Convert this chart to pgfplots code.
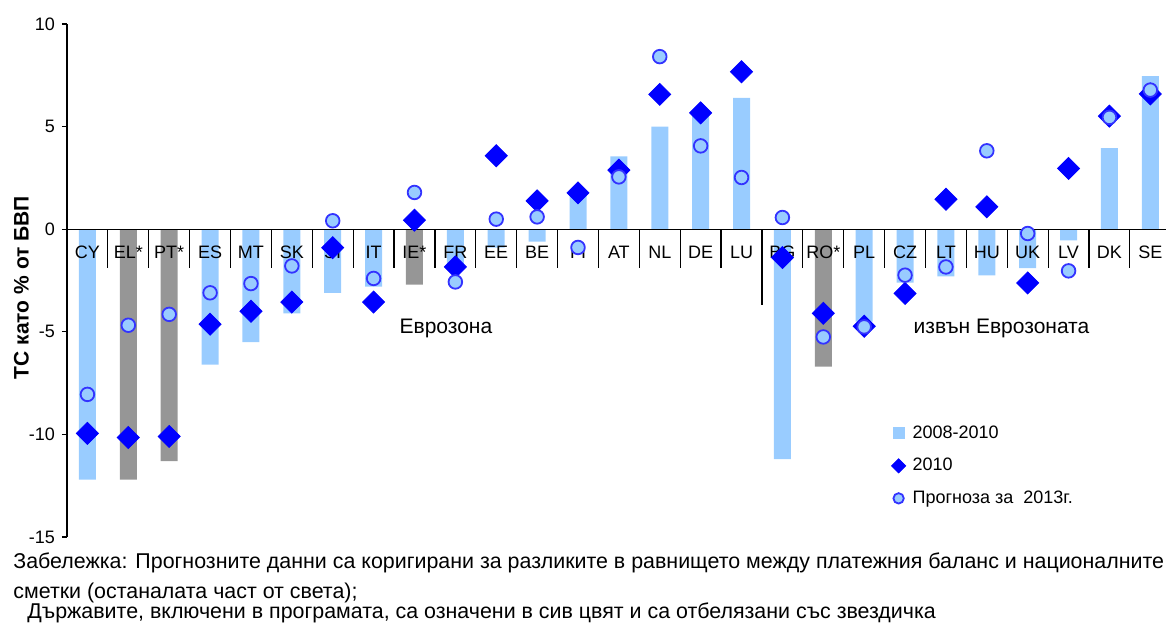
\documentclass[border=0pt]{standalone}
\usepackage{fontspec}
\setmainfont{Liberation Sans}
\usepackage{pgfplots}
\pgfplotsset{compat=1.18}
\usepackage{pgfplotstable}

\definecolor{barblue}{HTML}{99CCFF}
\definecolor{bargrey}{HTML}{969696}
\definecolor{diam}{HTML}{0000FF}
\definecolor{ringblue}{HTML}{3333FF}

% 2008-2010, countries outside the programme
\pgfplotstableread{
x y
0 -12.2
3 -6.6
4 -5.5
5 -4.1
6 -3.1
7 -2.8
9 -1.9
10 -0.9
11 -0.6
12 1.65
13 3.55
14 5.0
15 5.6
16 6.4
17 -11.2
19 -4.5
20 -2.6
21 -2.3
22 -2.25
23 -1.9
24 -0.55
25 3.95
26 7.46
}\barsblue

% 2008-2010, programme countries (grey)
\pgfplotstableread{
x y
1 -12.2
2 -11.3
8 -2.7
18 -6.7
}\barsgrey

% 2010 and forecast 2013
\pgfplotstableread{
x d c
0 -9.95 -8.05
1 -10.15 -4.68
2 -10.1 -4.15
3 -4.63 -3.1
4 -4.0 -2.65
5 -3.55 -1.79
6 -0.9 0.41
7 -3.55 -2.4
8 0.44 1.79
9 -1.84 -2.57
10 3.58 0.49
11 1.38 0.6
12 1.77 -0.89
13 2.88 2.55
14 6.57 8.41
15 5.67 4.06
16 7.67 2.52
17 -1.38 0.57
18 -4.1 -5.25
19 -4.73 -4.76
20 -3.13 -2.24
21 1.46 -1.84
22 1.09 3.82
23 -2.62 -0.21
24 2.96 -2.03
25 5.51 5.45
26 6.59 6.78
}\pts

\begin{document}
\begin{tikzpicture}
\begin{axis}[
  name=ax,
  set layers,
  x=20.44bp, y=10.26bp,
  xmin=-0.5, xmax=26.38, ymin=-15, ymax=10,
  axis y line=left, axis x line=middle,
  axis line style={-, line width=0.6bp},
  clip=false,
  xtick={0,...,26},
  xticklabels={CY,EL*,PT*,ES,MT,SK,SI,IT,IE*,FR,EE,BE,FI,AT,NL,DE,LU,BG,RO*,PL,CZ,LT,HU,UK,LV,DK,SE},
  x tick style={draw=none},
  xticklabel style={font=\fontsize{9bp}{10bp}\selectfont, anchor=center, yshift=-9bp},
  ytick={-15,-10,...,10},
  y tick style={line width=0.6bp, black},
  tick align=outside,
  major tick length=2.5bp,
  yticklabel style={font=\fontsize{9bp}{10bp}\selectfont},
  /pgf/number format/assume math mode=true,
  legend cell align=left,
  legend style={at={(axis cs:19.66,-9.54)}, anchor=north west, draw=none, fill=none,
    inner sep=0pt, row sep=8.25bp, column sep=3.5bp,
    font=\fontsize{9bp}{10bp}\selectfont,
    nodes={inner sep=0pt, text height=6.5bp, text depth=1.5bp}},
]
\addplot[ybar, bar width=8.5bp, bar shift=0pt, fill=barblue, draw=none, on layer=axis background,
  legend image code/.code={\fill[barblue] (0bp,-3bp) rectangle (6bp,3bp);}]
  table[x=x, y=y] {\barsblue};
\addlegendentry{2008-2010}
\addplot[ybar, bar width=8.5bp, bar shift=0pt, fill=bargrey, draw=none, forget plot, on layer=axis background]
  table[x=x, y=y] {\barsgrey};

% separators between countries
\pgfplotsinvokeforeach{0.5,1.5,...,15.5}{\draw[line width=0.6bp] (axis cs:#1,0) -- (axis cs:#1,-1.9);}
\pgfplotsinvokeforeach{17.5,18.5,...,25.5}{\draw[line width=0.6bp] (axis cs:#1,0) -- (axis cs:#1,-1.9);}
\draw[line width=0.6bp] (axis cs:16.5,0) -- (axis cs:16.5,-3.7);

\addplot[only marks, mark=square*, mark size=3.9bp, mark options={rotate=45, fill=diam, draw=diam},
  legend image code/.code={\draw[diam] plot[only marks, mark=square*, mark size=2.5bp,
    mark options={rotate=45, fill=diam, draw=diam}] coordinates {(3bp,0bp)};}]
  table[x=x, y=d] {\pts};
\addlegendentry{2010}
\addplot[only marks, mark=*, mark size=3.4bp, mark options={fill=barblue, draw=ringblue, line width=0.9bp},
  legend image code/.code={\draw[ringblue] plot[only marks, mark=*, mark size=2.6bp,
    mark options={fill=barblue, draw=ringblue, line width=0.9bp}] coordinates {(3bp,0bp)};}]
  table[x=x, y=c] {\pts};
\addlegendentry{Прогноза за\ \ 2013г.}

\node[font=\fontsize{10.5bp}{12bp}\selectfont] at (axis cs:8.77,-4.83) {Еврозона};
\node[font=\fontsize{10.5bp}{12bp}\selectfont] at (axis cs:22.36,-4.83) {извън Еврозоната};
\node[rotate=90, font=\fontsize{10.5bp}{12bp}\selectfont\bfseries] at (axis description cs:-0.0414,0.486) {ТС като \% от БВП};
\end{axis}

\node[anchor=base west, inner sep=0pt, font=\fontsize{10.7bp}{12bp}\selectfont]
  at ([shift={(-27bp,-15.5bp)}]ax.south west)
  {Забележка: Прогнозните данни са коригирани за разликите в равнището между платежния баланс и националните};
\node[anchor=base west, inner sep=0pt, font=\fontsize{10.7bp}{12bp}\selectfont]
  at ([shift={(-27bp,-30.5bp)}]ax.south west)
  {сметки (останалата част от света);};
\node[anchor=base west, inner sep=0pt, font=\fontsize{10.7bp}{12bp}\selectfont]
  at ([shift={(-20bp,-40.5bp)}]ax.south west)
  {Държавите, включени в програмата, са означени в сив цвят и са отбелязани със звездичка};

\pgfresetboundingbox
\path ([shift={(-33.5bp,-46.5bp)}]ax.south west) rectangle ++(583bp,315bp);
\end{tikzpicture}
\end{document}
